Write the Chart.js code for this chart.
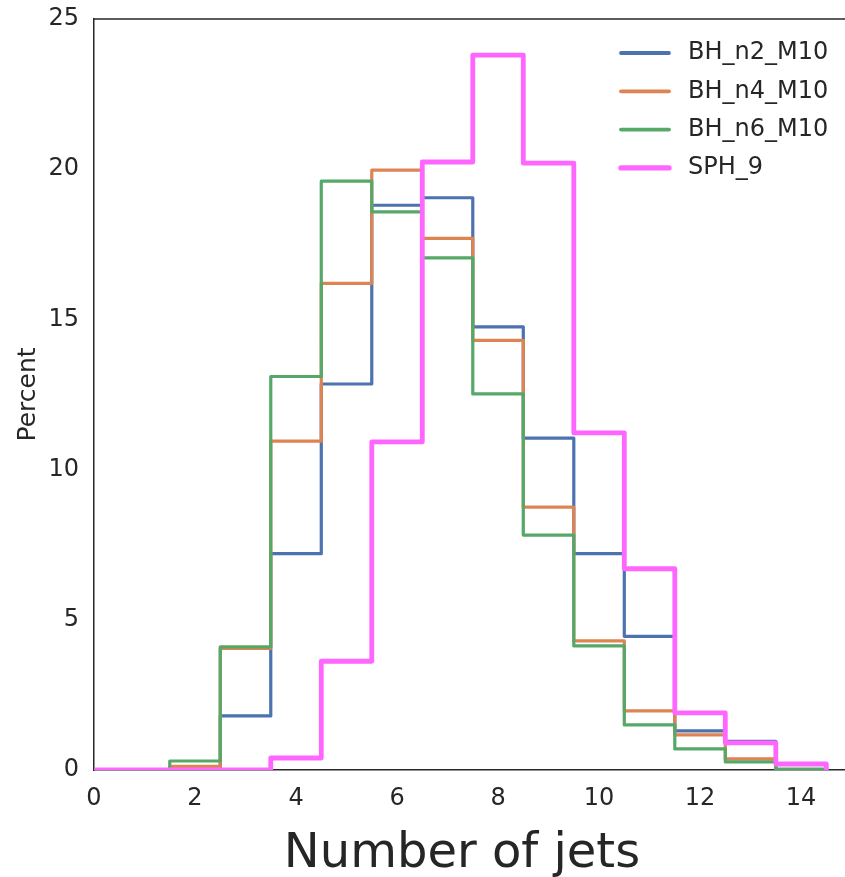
<!DOCTYPE html>
<html>
<head>
<meta charset="utf-8">
<script src="https://cdn.jsdelivr.net/npm/chart.js@4.4.0/dist/chart.umd.min.js"></script>
<style>
html, body { margin: 0; padding: 0; background: #fff; overflow: hidden; }
#wrap { width: 845px; height: 877px; }
</style>
</head>
<body>
<div id="wrap"><canvas id="jetsChart" width="845" height="877"></canvas></div>
<script>
// bin centres (number of jets) and percent of events in each bin
var nJets = [0, 1, 2, 3, 4, 5, 6, 7, 8, 9, 10, 11, 12, 13, 14];
var bhN2 = [0, 0, 0.05, 1.8, 7.2, 12.85, 18.8, 19.05, 14.75, 11.05, 7.2, 4.45, 1.3, 0.95, 0];
var bhN4 = [0, 0, 0.12, 4.05, 10.95, 16.2, 19.97, 17.7, 14.3, 8.75, 4.3, 1.97, 1.17, 0.37, 0];
var bhN6 = [0, 0, 0.3, 4.1, 13.1, 19.6, 18.58, 17.05, 12.52, 7.82, 4.13, 1.5, 0.7, 0.27, 0.03];
var sph9 = [0, 0, 0, 0, 0.4, 3.62, 10.92, 20.24, 23.8, 20.2, 11.22, 6.7, 1.9, 0.9, 0.2];
var seriesNames = ['BH_n2_M10', 'BH_n4_M10', 'BH_n6_M10', 'SPH_9'];
var xTicks = [0, 2, 4, 6, 8, 10, 12, 14];
var yTicks = [0, 5, 10, 15, 20, 25];

var textColor = '#262626';

// histogram outline: value held from the left bin edge to the right one
function stepPoints(vals) {
    var pts = [{ x: nJets[0] - 0.5, y: 0 }];
    vals.forEach(function (v, i) {
        pts.push({ x: nJets[i] - 0.5, y: v });
    });
    var lastEdge = nJets[nJets.length - 1] + 0.5;
    pts.push({ x: lastEdge, y: vals[vals.length - 1] });
    pts.push({ x: lastEdge, y: 0 });
    return pts;
}

function histSet(label, vals, color, width, order) {
    return {
        label: label,
        data: stepPoints(vals),
        borderColor: color,
        backgroundColor: color,
        borderWidth: width,
        borderJoinStyle: 'round',
        stepped: true,
        pointRadius: 0,
        fill: false,
        clip: 0,
        order: order
    };
}

// top spine, legend in the upper right and the x label
var extras = {
    id: 'extras',
    afterDraw: function (chart) {
        var ctx = chart.ctx, a = chart.chartArea;
        ctx.save();
        ctx.strokeStyle = textColor;
        ctx.lineWidth = 1.5;
        ctx.beginPath();
        ctx.moveTo(a.left, a.top);
        ctx.lineTo(a.right, a.top);
        ctx.stroke();

        ctx.font = '24px "DejaVu Sans"';
        ctx.textBaseline = 'middle';
        ctx.textAlign = 'left';
        chart.data.datasets.forEach(function (ds, i) {
            var y = a.top + 34 + i * 38.3;
            ctx.strokeStyle = ds.borderColor;
            ctx.lineWidth = ds.borderWidth + 0.6;
            ctx.lineCap = 'round';
            ctx.beginPath();
            ctx.moveTo(621, y);
            ctx.lineTo(669, y);
            ctx.stroke();
            ctx.fillStyle = textColor;
            ctx.fillText(ds.label, 688, y);
        });

        ctx.font = '48px "DejaVu Sans"';
        ctx.textAlign = 'center';
        ctx.textBaseline = 'alphabetic';
        ctx.fillStyle = textColor;
        ctx.fillText('Number of jets', 462, 867);
        ctx.restore();
    }
};

var ctx = document.getElementById('jetsChart');
var jetsChart = new Chart(ctx, {
    type: 'line',
    data: {
        datasets: [
            histSet(seriesNames[0], bhN2, '#4c72b0', 3.2, 3),
            histSet(seriesNames[1], bhN4, '#dd8452', 3.2, 2),
            histSet(seriesNames[2], bhN6, '#55a868', 3.2, 1),
            histSet(seriesNames[3], sph9, '#ff66ff', 4.8, 0)
        ]
    },
    options: {
        responsive: false,
        animation: false,
        layout: { padding: { top: 19, right: 0, left: 0, bottom: 0 } },
        plugins: {
            legend: { display: false },
            tooltip: { enabled: false }
        },
        scales: {
            x: {
                type: 'linear',
                min: 0,
                max: 14.87,
                grid: { display: false, drawTicks: false },
                border: { display: true, color: textColor, width: 1.5 },
                afterBuildTicks: function (scale) {
                    scale.ticks = xTicks.map(function (v) { return { value: v }; });
                },
                afterFit: function (scale) {
                    scale.height = 107;
                    scale.paddingLeft = 0;
                    scale.paddingRight = 0;
                },
                ticks: {
                    padding: 14,
                    color: textColor,
                    font: { family: 'DejaVu Sans', size: 24 },
                    maxRotation: 0
                }
            },
            y: {
                min: 0,
                max: 25,
                grid: { display: false, drawTicks: false },
                border: { display: true, color: textColor, width: 1.5 },
                afterBuildTicks: function (scale) {
                    scale.ticks = yTicks.map(function (v) { return { value: v }; });
                },
                afterFit: function (scale) {
                    scale.width = 94;
                    scale.paddingTop = 0;
                    scale.paddingBottom = 0;
                },
                ticks: {
                    padding: 15,
                    color: textColor,
                    font: { family: 'DejaVu Sans', size: 24 }
                },
                title: {
                    display: true,
                    text: 'Percent',
                    color: textColor,
                    font: { family: 'DejaVu Sans', size: 25 },
                    padding: { top: 13, bottom: 0 }
                }
            }
        }
    },
    plugins: [extras]
});
</script>
</body>
</html>
